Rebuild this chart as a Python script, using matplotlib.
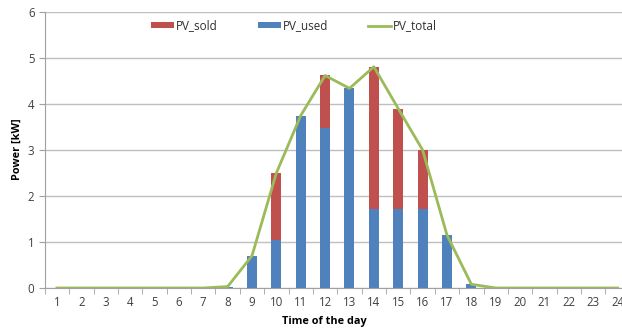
import matplotlib
matplotlib.use("Agg")
import matplotlib.pyplot as plt
import numpy as np

hours = list(range(1, 25))
pv_used = [0, 0, 0, 0, 0, 0, 0, 0.03, 0.70, 1.04, 3.75, 3.48, 4.34, 1.72, 1.72, 1.72,
           1.15, 0.08, 0, 0, 0, 0, 0, 0]
pv_sold = [0, 0, 0, 0, 0, 0, 0, 0, 0, 1.46, 0, 1.14, 0, 3.09, 2.18, 1.28,
           0, 0, 0, 0, 0, 0, 0, 0]
pv_total = [0, 0, 0, 0, 0, 0, 0, 0.03, 0.70, 2.50, 3.75, 4.62, 4.34, 4.81, 3.90, 3.00,
            1.15, 0.08, 0, 0, 0, 0, 0, 0]

plt.rcParams['font.family'] = ['Open Sans', 'DejaVu Sans']

fig = plt.figure(figsize=(6.22, 3.33), dpi=100)
ax = fig.add_axes([44.8 / 622, 45 / 333, 585 / 622, 276 / 333])

x = np.array(hours)
w = 0.41
ax.bar(x, pv_used, width=w, color='#4F81BD', label='PV_used', zorder=3)
ax.bar(x, pv_sold, width=w, bottom=pv_used, color='#C0504D', label='PV_sold', zorder=3)
ax.plot(x, pv_total, color='#9BBB59', lw=2, label='PV_total', zorder=4)

ax.set_xlim(0.5, 24.5)
ax.set_ylim(0, 6)
ax.set_yticks(range(0, 7))
ax.set_xticks(hours)
ax.set_xticks(np.arange(0.5, 25, 1), minor=True)
ax.tick_params(axis='x', which='major', length=0, labelsize=8.3, colors='#404040', pad=6)
ax.tick_params(axis='x', which='minor', length=4, color='#A0A0A0', direction='out')
ax.tick_params(axis='y', length=4, color='#A0A0A0', labelsize=8.3, labelcolor='#404040')
ax.grid(axis='y', color='#BFBFBF', lw=1, zorder=0)
for s in ['top', 'right']:
    ax.spines[s].set_visible(False)
for s in ['left', 'bottom']:
    ax.spines[s].set_color('#A0A0A0')
ax.spines['bottom'].set_zorder(5)

ax.set_ylabel('Power [kW]', fontsize=7.8, fontweight='bold')
ax.yaxis.set_label_coords(-(44.8 - 23) / 585, (288 - 149) / 276)
ax.set_xlabel('Time of the day', fontsize=7.8, fontweight='bold')
ax.xaxis.set_label_coords((324 - 44.8) / 585, -(316 - 288) / 276)

h, l = ax.get_legend_handles_labels()
order = [l.index('PV_sold'), l.index('PV_used'), l.index('PV_total')]
ax.legend([h[i] for i in order], [l[i] for i in order], ncol=3, loc='center',
          bbox_to_anchor=((294 - 44.8) / 585, (288 - 26) / 276), frameon=False,
          fontsize=8.4, handlelength=2.0, handleheight=0.45, handletextpad=0.15,
          columnspacing=3.4, labelcolor='#303030')

fig.savefig('out.png', dpi=100)
